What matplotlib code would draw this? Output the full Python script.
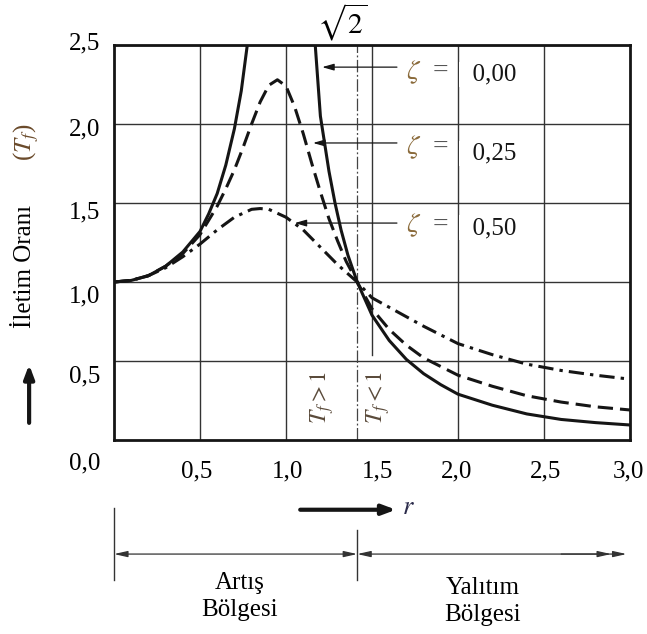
import numpy as np
import matplotlib
matplotlib.use("Agg")
import matplotlib.pyplot as plt

plt.rcParams['font.family'] = ['Liberation Serif', 'DejaVu Serif']
plt.rcParams['mathtext.fontset'] = 'stix'

# values
# zeta = 0.00 (two branches around resonance)
r0_left = [0.0, 0.1, 0.2, 0.3, 0.4, 0.5, 0.55, 0.6, 0.65, 0.7, 0.74, 0.775]
t0_left = [1.00, 1.01, 1.04, 1.10, 1.19, 1.32, 1.43, 1.56, 1.74, 1.97, 2.21, 2.50]
r0_right = [1.17, 1.2, 1.25, 1.285, 1.32, 1.36, 1.414, 1.5, 1.6, 1.7, 1.8, 1.9,
            2.0, 2.2, 2.4, 2.6, 2.8, 3.0]
t0_right = [2.50, 2.05, 1.70, 1.50, 1.33, 1.17, 1.00, 0.79, 0.63, 0.51, 0.42, 0.35,
            0.29, 0.22, 0.165, 0.13, 0.11, 0.095]

# zeta = 0.25
r25 = [0.0, 0.1, 0.2, 0.3, 0.4, 0.5, 0.6, 0.65, 0.7, 0.75, 0.8, 0.85, 0.9, 0.95,
       1.0, 1.05, 1.1, 1.15, 1.2, 1.25, 1.3, 1.35, 1.414, 1.5, 1.6, 1.7, 1.8,
       2.0, 2.2, 2.4, 2.6, 2.8, 3.0]
t25 = [1.00, 1.01, 1.04, 1.10, 1.18, 1.30, 1.48, 1.59, 1.71, 1.85, 2.00, 2.14,
       2.245, 2.28, 2.24, 2.11, 1.94, 1.75, 1.57, 1.40, 1.26, 1.13, 1.00, 0.83,
       0.70, 0.60, 0.52, 0.41, 0.34, 0.28, 0.24, 0.21, 0.19]

# zeta = 0.50
r50 = [0.0, 0.1, 0.2, 0.3, 0.4, 0.5, 0.6, 0.7, 0.8, 0.85, 0.9, 1.0, 1.1, 1.2,
       1.3, 1.414, 1.5, 1.6, 1.8, 2.0, 2.2, 2.4, 2.6, 2.8, 3.0]
t50 = [1.00, 1.01, 1.04, 1.09, 1.16, 1.24, 1.33, 1.41, 1.46, 1.465, 1.46, 1.41,
       1.33, 1.22, 1.11, 1.00, 0.90, 0.84, 0.72, 0.61, 0.54, 0.48, 0.44, 0.41,
       0.385]

zeta_labels = ['0,00', '0,25', '0,50']
grid_vals = [0.5, 1.0, 1.5, 2.0, 2.5]
x_tick_labels = ['0,5', '1,0', '1,5', '2,0', '2,5', '3,0']
x_label_pos = [0.483, 1.01, 1.535, 1.99, 2.51, 2.99]
y_tick_labels = ['0,0', '0,5', '1,0', '1,5', '2,0', '2,5']
y_label_pos = [-0.15, 0.40, 0.91, 1.443, 1.968, 2.513]
sqrt2 = 1.414

ink = '#151515'
brown = '#8a6a3a'

fig = plt.figure(figsize=(6.47, 6.34), dpi=100)
ax = fig.add_axes([0.1762, 0.306, 0.7975, 0.623])
ax.set_xlim(0, 3)
ax.set_ylim(0, 2.5)
ax.set_xticks([])
ax.set_yticks([])
for s in ax.spines.values():
    s.set_linewidth(2.0)
    s.set_color(ink)

# grid
for g in grid_vals:
    ax.axhline(g, color='#333333', lw=1.0, zorder=1)
for g in grid_vals:
    if g == 1.5:
        ax.axvline(g, ymin=0.54 / 2.5, color='#333333', lw=1.0, zorder=1)
    else:
        ax.axvline(g, color='#333333', lw=1.0, zorder=1)
ax.axvline(sqrt2, color='#444444', lw=0.9, dashes=(10, 2, 1.5, 2), zorder=1)

# curves
ax.plot(r0_left, t0_left, color=ink, lw=2.2, zorder=3)
ax.plot(r0_right, t0_right, color=ink, lw=2.2, zorder=3)
ax.plot(r25, t25, color=ink, lw=2.2, dashes=(5, 2.3), zorder=3)
ax.plot(r50, t50, color=ink, lw=2.2, dashes=(5, 2, 1.1, 2), zorder=3)

# zeta labels with arrows
arrow_y = [2.36, 1.88, 1.373]
arrow_end = [1.21, 1.157, 1.05]
text_y = [2.33, 1.85, 1.36]
num_y = [2.316, 1.816, 1.342]
for ay, ae, ty, ny, lab in zip(arrow_y, arrow_end, text_y, num_y, zeta_labels):
    ax.annotate('', xy=(ae, ay), xytext=(1.645, ay),
                arrowprops=dict(arrowstyle='-|>,head_length=0.7,head_width=0.2',
                                lw=0.9, color=ink, shrinkA=0, shrinkB=0), zorder=4)
    ax.text(1.74, ty, r'$\zeta$', color=brown, fontsize=20, ha='center', va='center', zorder=5)
    ax.text(1.90, ty, '=', color='#555555', fontsize=20, ha='center', va='center', zorder=5)
    ax.text(2.012, ny, '  ' + lab, fontsize=18, ha='left', va='center', color=ink, zorder=5,
            bbox=dict(facecolor='white', edgecolor='none', pad=1))

ax.text(1.33, 2.645, r'$\sqrt{2}$', fontsize=21, ha='center', va='center', clip_on=False)

ax.text(1.21, 0.27, r'$T_f > 1$', rotation=90, fontsize=17, ha='center', va='center', color='#5a4a3a')
ax.text(1.535, 0.27, r'$T_f < 1$', rotation=90, fontsize=17, ha='center', va='center', color='#5a4a3a')

# tick labels
for xp, lab in zip(x_label_pos, x_tick_labels):
    ax.text(xp, -0.2, lab, fontsize=18, ha='center', va='center', clip_on=False)
for yp, lab in zip(y_label_pos, y_tick_labels):
    ax.text(-0.081, yp, lab, fontsize=18, ha='right', va='center', clip_on=False)

# axis labels
fig.text(0.039, 0.579, 'İletim Oranı', rotation=90, fontsize=18, ha='center', va='center')
fig.text(0.041, 0.776, '($T_f$)', rotation=90, fontsize=18, ha='center', va='center', color='#6a4a2a')
ax.annotate('', xy=(0.045, 0.425), xytext=(0.045, 0.333), xycoords='figure fraction',
            annotation_clip=False,
            arrowprops=dict(arrowstyle='-|>,head_length=0.8,head_width=0.3', lw=3, color=ink,
                            shrinkA=0, shrinkB=0))
ax.annotate('', xy=(0.612, 0.196), xytext=(0.464, 0.196), xycoords='figure fraction',
            annotation_clip=False,
            arrowprops=dict(arrowstyle='-|>,head_length=0.8,head_width=0.3', lw=3, color=ink,
                            shrinkA=0, shrinkB=0))
fig.text(0.632, 0.199, '$r$', fontsize=19, ha='center', va='center', color='#2a2a4a')

# region brackets
ax.plot([0, 0], [-0.43, -0.886], color='#333333', lw=1.0, clip_on=False)
ax.plot([sqrt2, sqrt2], [-0.57, -0.886], color='#333333', lw=1.0, clip_on=False)
ax.annotate('', xy=(0, -0.722), xytext=(sqrt2, -0.722), annotation_clip=False,
            arrowprops=dict(arrowstyle='<|-|>,head_length=0.8,head_width=0.18', lw=0.9,
                            color='#333333', shrinkA=0, shrinkB=0))
ax.annotate('', xy=(sqrt2, -0.722), xytext=(2.98, -0.722), annotation_clip=False,
            arrowprops=dict(arrowstyle='<|-|>,head_length=0.8,head_width=0.18', lw=0.9,
                            color='#333333', shrinkA=0, shrinkB=0))
ax.annotate('', xy=(2.89, -0.722), xytext=(2.6, -0.722), annotation_clip=False,
            arrowprops=dict(arrowstyle='-|>,head_length=0.8,head_width=0.18', lw=0.9,
                            color='#333333', shrinkA=0, shrinkB=0))
ax.text(0.73, -0.99, 'Artış\nBölgesi', fontsize=18, ha='center', va='center',
        linespacing=1.3, clip_on=False)
ax.text(2.145, -1.02, 'Yalıtım\nBölgesi', fontsize=18, ha='center', va='center',
        linespacing=1.3, clip_on=False)

fig.savefig('out.png', dpi=100)
